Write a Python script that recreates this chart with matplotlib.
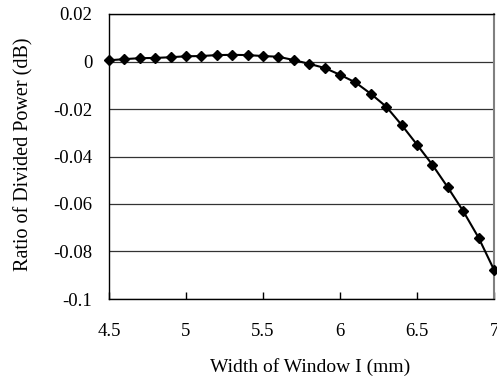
import numpy as np
import matplotlib
matplotlib.use("Agg")
import matplotlib.pyplot as plt

plt.rcParams['font.family'] = ['Liberation Serif', 'DejaVu Serif']
plt.rcParams['axes.unicode_minus'] = False

# width of window I (mm)
width = [4.5, 4.6, 4.7, 4.8, 4.9, 5.0, 5.1, 5.2, 5.3, 5.4, 5.5, 5.6, 5.7,
         5.8, 5.9, 6.0, 6.1, 6.2, 6.3, 6.4, 6.5, 6.6, 6.7, 6.8, 6.9, 7.0]
# ratio of divided power (dB)
ratio = [0.0005, 0.001, 0.0014, 0.0015, 0.0018, 0.0022, 0.0023, 0.0027, 0.0028,
         0.0027, 0.0023, 0.002, 0.0006, -0.001, -0.0027, -0.0056, -0.0088,
         -0.0136, -0.019, -0.0267, -0.035, -0.0435, -0.053, -0.063, -0.0742,
         -0.0877]

xticks = [4.5, 5, 5.5, 6, 6.5, 7]
xticklabels = ['4.5', '5', '5.5', '6', '6.5', '7']
yticks = [0.02, 0, -0.02, -0.04, -0.06, -0.08, -0.1]
yticklabels = ['0.02', '0', '-0.02', '-0.04', '-0.06', '-0.08', '-0.1']

W, H = 497, 383
fig = plt.figure(figsize=(W / 100, H / 100), dpi=100)
ax = fig.add_axes([109 / W, 1 - 299 / H, 385 / W, 285 / H])

for y in yticks:
    ax.axhline(y, color='#333333', lw=0.9, zorder=1)

ax.plot(width, ratio, color='black', lw=1.5, marker='D', markersize=5,
        markerfacecolor='black', markeredgecolor='black', zorder=3, clip_on=False)

ax.set_xlim(4.5, 7)
ax.set_ylim(-0.1, 0.02)
ax.set_xticks(xticks)
ax.set_xticklabels(xticklabels)
ax.set_yticks(yticks)
ax.set_yticklabels(yticklabels)
ax.tick_params(direction='in', length=5, width=1, labelsize=13.5)
ax.tick_params(axis='x', pad=17)
ax.tick_params(axis='y', length=0, pad=12)

for s in ['left', 'bottom', 'top']:
    ax.spines[s].set_color('black')
    ax.spines[s].set_linewidth(1)
ax.spines['right'].set_color('#808080')
ax.spines['right'].set_linewidth(1.5)

fig.text(310 / W, 1 - 367 / H, 'Width of Window I (mm)', fontsize=14,
         ha='center', va='center')
fig.text(24 / W, 1 - 154 / H, 'Ratio of Divided Power (dB)', fontsize=14.5,
         ha='center', va='center', rotation=90)

fig.savefig('out.png', dpi=100)
